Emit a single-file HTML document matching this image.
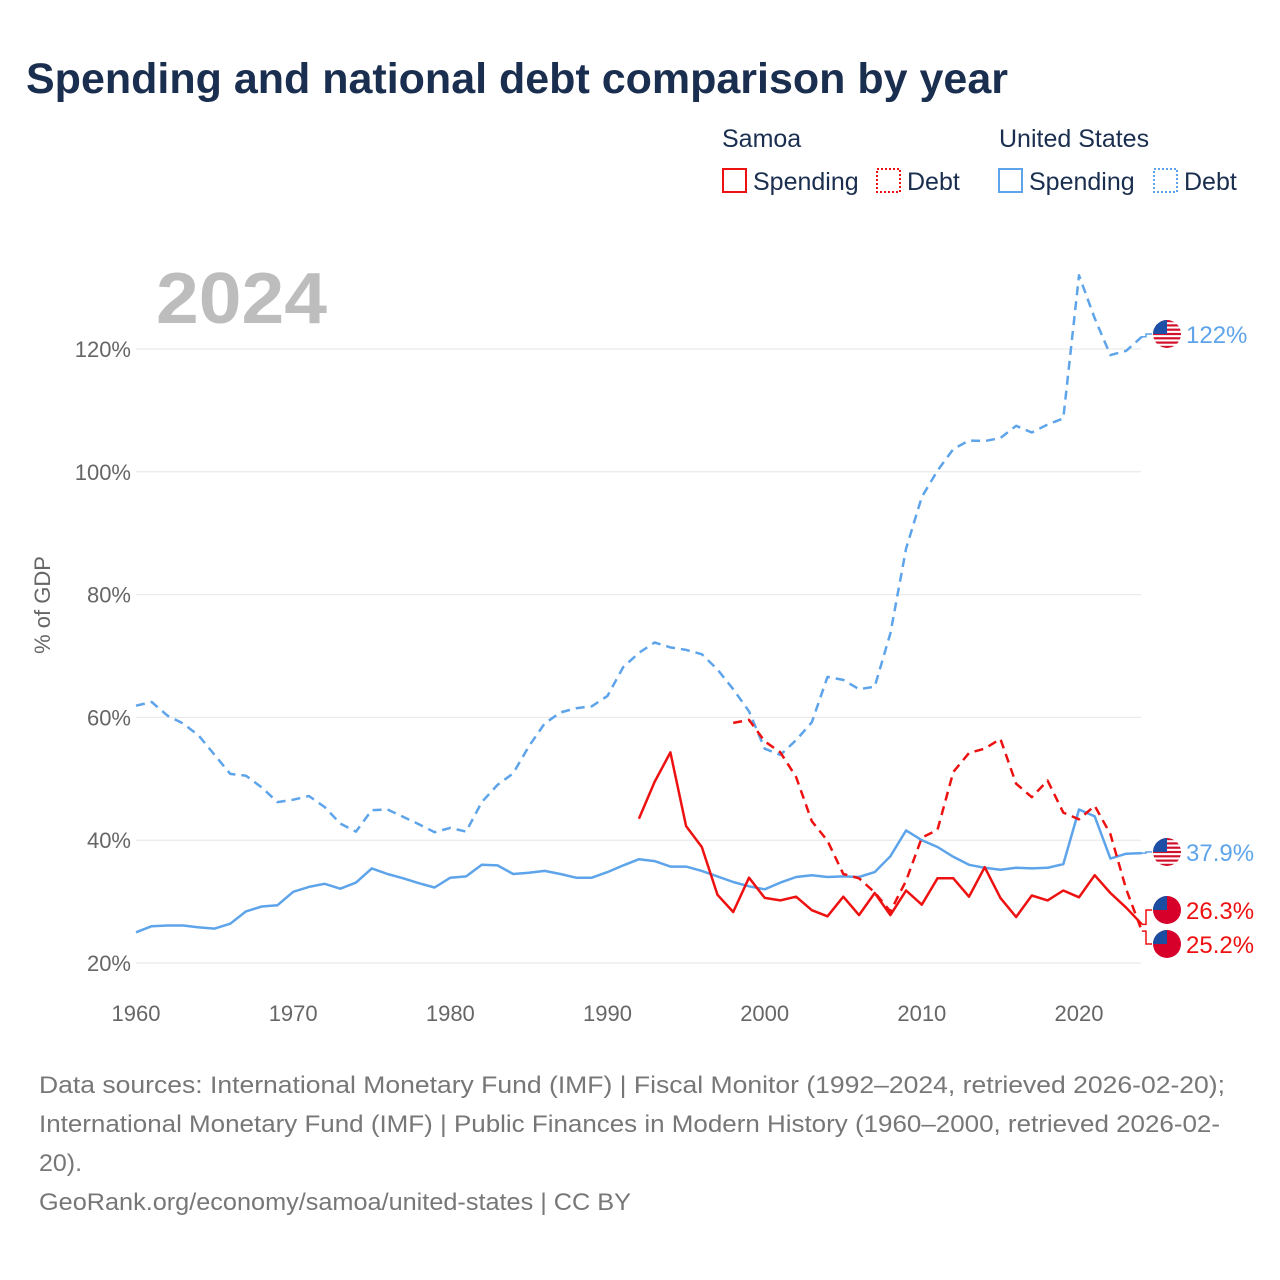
<!DOCTYPE html>
<html><head><meta charset="utf-8">
<style>
body{margin:0;background:#fff;font-family:"Liberation Sans",sans-serif;}
#wrap{position:relative;width:1280px;height:1280px;overflow:hidden;}
svg text{font-family:"Liberation Sans",sans-serif;}
</style></head>
<body>
<div id="wrap">
<svg id="chart" width="1280" height="1280">
<text x="26" y="93" font-size="43" font-weight="bold" fill="#1a2e4f">Spending and national debt comparison by year</text>
<g font-size="25" fill="#1a2e4f">
<text x="722" y="147" fill="#1a2e4f">Samoa</text>
<text x="999" y="147" fill="#1a2e4f">United States</text>
<g><rect x="723" y="169" width="23" height="23" fill="none" stroke="#ee1111" stroke-width="2"/><text x="753" y="190" fill="#1a2e4f">Spending</text></g>
<g><rect x="877" y="169" width="23" height="23" fill="none" stroke="#ee1111" stroke-width="2" stroke-dasharray="2,2"/><text x="907" y="190" fill="#1a2e4f">Debt</text></g>
<g><rect x="999" y="169" width="23" height="23" fill="none" stroke="#5ea4ea" stroke-width="2"/><text x="1029" y="190" fill="#1a2e4f">Spending</text></g>
<g><rect x="1154" y="169" width="23" height="23" fill="none" stroke="#5ea4ea" stroke-width="2" stroke-dasharray="2,2"/><text x="1184" y="190" fill="#1a2e4f">Debt</text></g>
</g>
<text x="156" y="323" font-size="72" font-weight="bold" fill="#bdbdbd" textLength="171" lengthAdjust="spacingAndGlyphs">2024</text>
<text transform="translate(50,605) rotate(-90)" text-anchor="middle" font-size="22" fill="#666">% of GDP</text>
<g id="grid"></g>
<g id="series"></g>
<g id="labels"></g>
<g font-size="24" fill="#777">
<text x="39" y="1093" textLength="1186" lengthAdjust="spacingAndGlyphs">Data sources: International Monetary Fund (IMF) | Fiscal Monitor (1992–2024, retrieved 2026-02-20);</text>
<text x="39" y="1132" textLength="1181" lengthAdjust="spacingAndGlyphs">International Monetary Fund (IMF) | Public Finances in Modern History (1960–2000, retrieved 2026-02-</text>
<text x="39" y="1171" textLength="43" lengthAdjust="spacingAndGlyphs">20).</text>
<text x="39" y="1210" textLength="592" lengthAdjust="spacingAndGlyphs">GeoRank.org/economy/samoa/united-states | CC BY</text>
</g>
</svg>
</div>
<script>
const yTicks=[20,40,60,80,100,120];
const xTicks=[1960,1970,1980,1990,2000,2010,2020];
const usYears=[];for(let y=1960;y<=2024;y++)usYears.push(y);
const usSpending=[25.0,26.0,26.1,26.1,25.8,25.6,26.4,28.4,29.2,29.4,31.6,32.4,32.9,32.1,33.1,35.4,34.5,33.8,33.0,32.3,33.9,34.1,36.0,35.9,34.5,34.7,35.0,34.5,33.9,33.9,34.8,35.9,36.9,36.6,35.7,35.7,35.0,34.1,33.2,32.5,32.0,33.1,34.0,34.3,34.0,34.1,34.0,34.8,37.4,41.6,40.0,38.9,37.3,36.0,35.5,35.2,35.5,35.4,35.5,36.1,45.0,43.9,37.0,37.8,37.9];
const usDebt=[61.9,62.5,60.3,59.0,57.0,53.9,50.8,50.5,48.6,46.2,46.6,47.2,45.4,42.7,41.4,44.9,45.0,43.8,42.6,41.3,42.0,41.4,46.2,49.0,50.9,55.3,59.0,60.8,61.5,61.8,63.5,68.2,70.5,72.2,71.4,71.0,70.3,67.8,64.6,61.0,54.9,53.9,56.3,59.2,66.6,66.1,64.6,65.0,73.7,87.5,95.9,100.2,103.7,105.1,105.0,105.5,107.5,106.4,107.7,108.7,132.0,125.0,119.0,119.7,122.0];
const wsSpendYears=[];for(let y=1992;y<=2024;y++)wsSpendYears.push(y);
const wsSpending=[43.5,49.5,54.3,42.3,38.9,31.1,28.3,33.9,30.6,30.2,30.8,28.6,27.6,30.8,27.8,31.4,27.8,31.8,29.5,33.8,33.8,30.8,35.6,30.6,27.5,31.0,30.2,31.8,30.7,34.3,31.4,29.0,26.3];
const wsDebtYears=[];for(let y=1998;y<=2024;y++)wsDebtYears.push(y);
const wsDebt=[59.1,59.6,56.1,54.3,50.3,43.1,39.9,34.5,33.8,31.5,28.4,33.4,40.4,41.7,51.1,54.2,54.9,56.5,49.2,47.0,49.7,44.5,43.4,45.6,41.0,32.0,25.2];

const NS='http://www.w3.org/2000/svg';
const X=y=>136+(y-1960)*(1079-136)/60;
const Y=v=>963-(v-20)*6.14;
function mk(tag,attrs,parent){const e=document.createElementNS(NS,tag);for(const k in attrs)e.setAttribute(k,attrs[k]);parent.appendChild(e);return e;}
const grid=document.getElementById('grid');
yTicks.forEach(t=>{
  const l=mk('line',{x1:136,x2:1141,y1:Y(t),y2:Y(t),stroke:'#e6e6e6','stroke-width':1},grid);
  
  
  const tx=mk('text',{x:131,y:Y(t)+8,'text-anchor':'end','font-size':22,fill:'#666'},grid);
  tx.textContent=t+'%';
  
  
});
xTicks.forEach(t=>{
  const tx=mk('text',{x:X(t),y:1021,'text-anchor':'middle','font-size':22,fill:'#666'},grid);
  tx.textContent=t;
  
  
});
const ser=document.getElementById('series');
function line(years,vals,color,dash,name){
  const d=years.map((y,i)=>(i?'L':'M')+X(y).toFixed(1)+','+Y(vals[i]).toFixed(1)).join('');
  const p=mk('path',{d:d,fill:'none',stroke:color,'stroke-width':2.5,'stroke-linejoin':'round'},ser);
  if(dash)p.setAttribute('stroke-dasharray',dash);
  
  
}
line(usYears,usDebt,'#5ea4ea','9,6','us-debt-line');
line(usYears,usSpending,'#5ea4ea',null,'us-spending-line');
line(wsDebtYears,wsDebt,'#ee1111','9,6','samoa-debt-line');
line(wsSpendYears,wsSpending,'#ee1111',null,'samoa-spending-line');

const lab=document.getElementById('labels');
function flag(cx,cy,us,name){
  const g=mk('g',{},lab);
  
  
  const id='c'+Math.round(cy);
  const cp=mk('clipPath',{id:id},g);mk('circle',{cx:cx,cy:cy,r:14},cp);
  const gg=mk('g',{'clip-path':'url(#'+id+')'},g);
  if(us){
    mk('rect',{x:cx-14,y:cy-14,width:28,height:28,fill:'#fff'},gg);
    for(let i=0;i<7;i++)mk('rect',{x:cx-14,y:cy-14+i*4.3,width:28,height:2.2,fill:'#d2102c'},gg);
    mk('rect',{x:cx-14,y:cy-14,width:14,height:14,fill:'#1e4fa6'},gg);
  }else{
    mk('rect',{x:cx-14,y:cy-14,width:28,height:28,fill:'#d6002a'},gg);
    mk('rect',{x:cx-14,y:cy-14,width:14,height:14,fill:'#1b4ea0'},gg);
  }
}
function label(v,txt,ly,color,name){
  const ex=X(2024),ey=Y(v);
  const c=mk('path',{d:`M${ex},${ey} L1146,${ey} L1146,${ly} L1152,${ly}`,fill:'none',stroke:color,'stroke-width':1.5},lab);
  
  
  flag(1167,ly,color!=='#ee1111',name+'-flag');
  const t=mk('text',{x:1186,y:ly+9,'font-size':24,fill:color},lab);
  t.textContent=txt;
  
  
}
label(usDebt[usDebt.length-1],'122%',334,'#5ea4ea','us-debt-label');
label(usSpending[usSpending.length-1],'37.9%',852,'#5ea4ea','us-spending-label');
label(wsSpending[wsSpending.length-1],'26.3%',910,'#ee1111','samoa-spending-label');
label(wsDebt[wsDebt.length-1],'25.2%',944,'#ee1111','samoa-debt-label');
</script>
</body></html>
